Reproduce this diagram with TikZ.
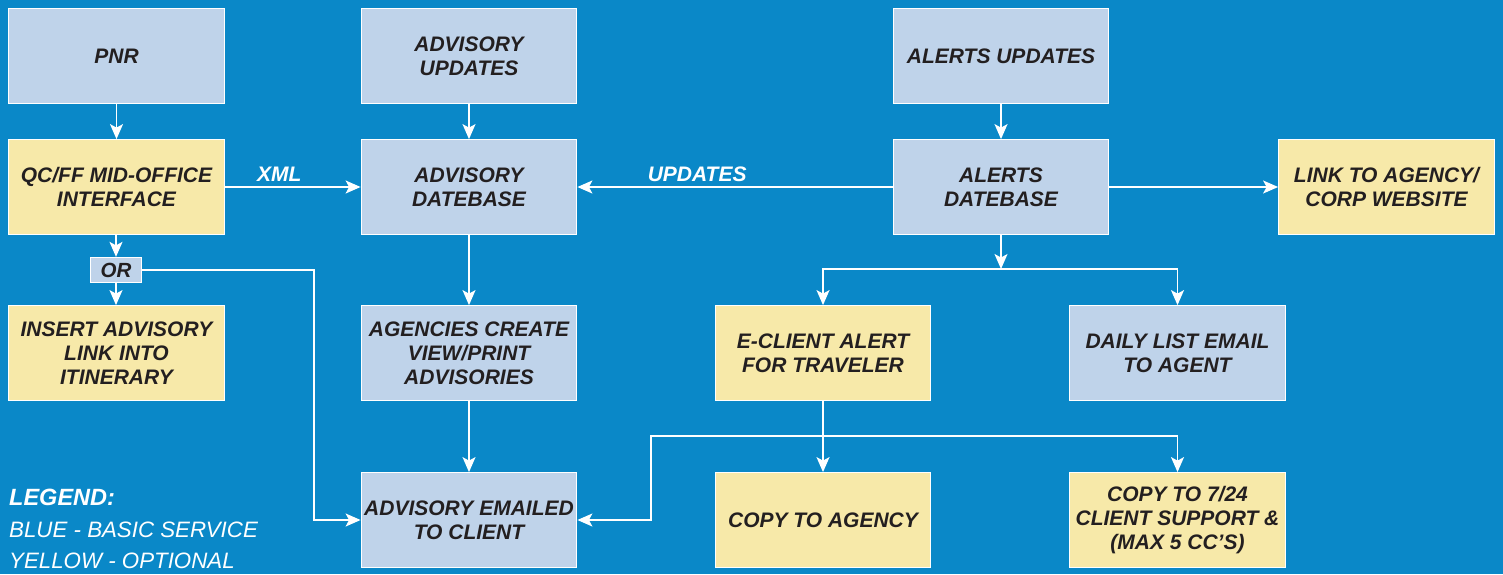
\documentclass[tikz,border=0pt]{standalone}
\usepackage{fontspec}
\setmainfont{Liberation Sans}
\usetikzlibrary{arrows.meta}
\definecolor{bgblue}{HTML}{0A88C8}
\definecolor{boxblue}{HTML}{BFD3EA}
\definecolor{boxyellow}{HTML}{F7E9A9}
\definecolor{txtdark}{HTML}{231F20}
\tikzset{
  basebox/.style={draw=white, line width=1.3pt, minimum width=215.5pt, minimum height=94.5pt,
    inner sep=2pt, align=center, text=txtdark, font=\bfseries\itshape\fontsize{21}{24}\selectfont},
  bluebox/.style={basebox, fill=boxblue},
  yellowbox/.style={basebox, fill=boxyellow},
  conn/.style={draw=white, line width=1.4pt},
  arr/.style={conn, -{Stealth[length=15pt,width=13pt,inset=3.5pt]}},
  lbl/.style={text=white, font=\bfseries\itshape\fontsize{21}{24}\selectfont},
  legtitle/.style={text=white, anchor=west, inner sep=0pt, font=\bfseries\itshape\fontsize{23.5}{24}\selectfont},
  legtext/.style={text=white, anchor=west, inner sep=0pt, font=\itshape\fontsize{22.3}{24}\selectfont}
}
\begin{document}
\begin{tikzpicture}[x=1pt,y=-1pt]
\fill[bgblue] (0,0) rectangle (1503,574);
\useasboundingbox (0,0) rectangle (1503,574);
% row 1
\node[bluebox] (pnr) at (116.5,56) {PNR};
\node[bluebox] (advu) at (469,56) {ADVISORY\\UPDATES};
\node[bluebox] (alu) at (1001,56) {ALERTS UPDATES};
% row 2
\node[yellowbox] (qc) at (116.5,187) {QC/FF MID-OFFICE\\INTERFACE};
\node[bluebox] (advd) at (469,187) {ADVISORY\\DATEBASE};
\node[bluebox] (ald) at (1001,187) {ALERTS\\DATEBASE};
\node[yellowbox] (link) at (1386.5,187) {LINK TO AGENCY/\\CORP WEBSITE};
% OR
\node[draw=white, line width=1.3pt, fill=boxblue, minimum width=51pt, minimum height=25pt, inner sep=0pt,
  text=txtdark, font=\bfseries\itshape\fontsize{20.5}{22}\selectfont] (or) at (116,270) {OR};
% row 3
\node[yellowbox] (ins) at (116.5,353) {INSERT ADVISORY\\LINK INTO\\ITINERARY};
\node[bluebox] (agc) at (469,353) {AGENCIES CREATE\\VIEW/PRINT\\ADVISORIES};
\node[yellowbox] (ecl) at (823,353) {E-CLIENT ALERT\\FOR TRAVELER};
\node[bluebox] (dl) at (1177.5,353) {DAILY LIST EMAIL\\TO AGENT};
% row 4
\node[bluebox] (ade) at (469,520) {ADVISORY EMAILED\\TO CLIENT};
\node[yellowbox] (cta) at (823,520) {COPY TO AGENCY};
\node[yellowbox] (c724) at (1177.5,520) {COPY TO 7/24\\CLIENT SUPPORT \&\\(MAX 5 CC’S)};
% connectors
\draw[arr] (pnr) -- (qc);
\draw[arr] (advu) -- (advd);
\draw[arr] (alu) -- (ald);
\draw[arr] (qc.east) -- (advd.west) node[lbl, pos=0.4, above=1pt] {XML};
\draw[arr] (ald.west) -- (advd.east) node[lbl, pos=0.62, above=1pt] {UPDATES};
\draw[arr] (ald) -- (link);
\draw[arr] (qc.south -| or.north) -- (or.north);
\draw[arr] (or.south) -- (ins.north -| or.south);
\coordinate (orturn) at (314,270);
\draw[arr] (or.east) -- (orturn) |- (ade);
\draw[arr] (advd) -- (agc);
\draw[arr] (agc) -- (ade);
\coordinate (j1) at (1001,269);
\draw[arr] (ald) -- (j1);
\draw[arr] (j1) -| (ecl);
\draw[arr] (j1) -| (dl);
\draw[arr] (ecl) -- (cta);
\coordinate (j2) at (823,436);
\coordinate (k2) at (651,436);
\draw[arr] (j2) -| (c724);
\draw[arr] (j2) -- (k2) |- (ade);
% legend
\node[legtitle] (lg1) at (9,497) {LEGEND:};
\node[legtext] (lg2) at (9,530) {BLUE - BASIC SERVICE};
\node[legtext] (lg3) at (9,561) {YELLOW - OPTIONAL};
\end{tikzpicture}
\end{document}
